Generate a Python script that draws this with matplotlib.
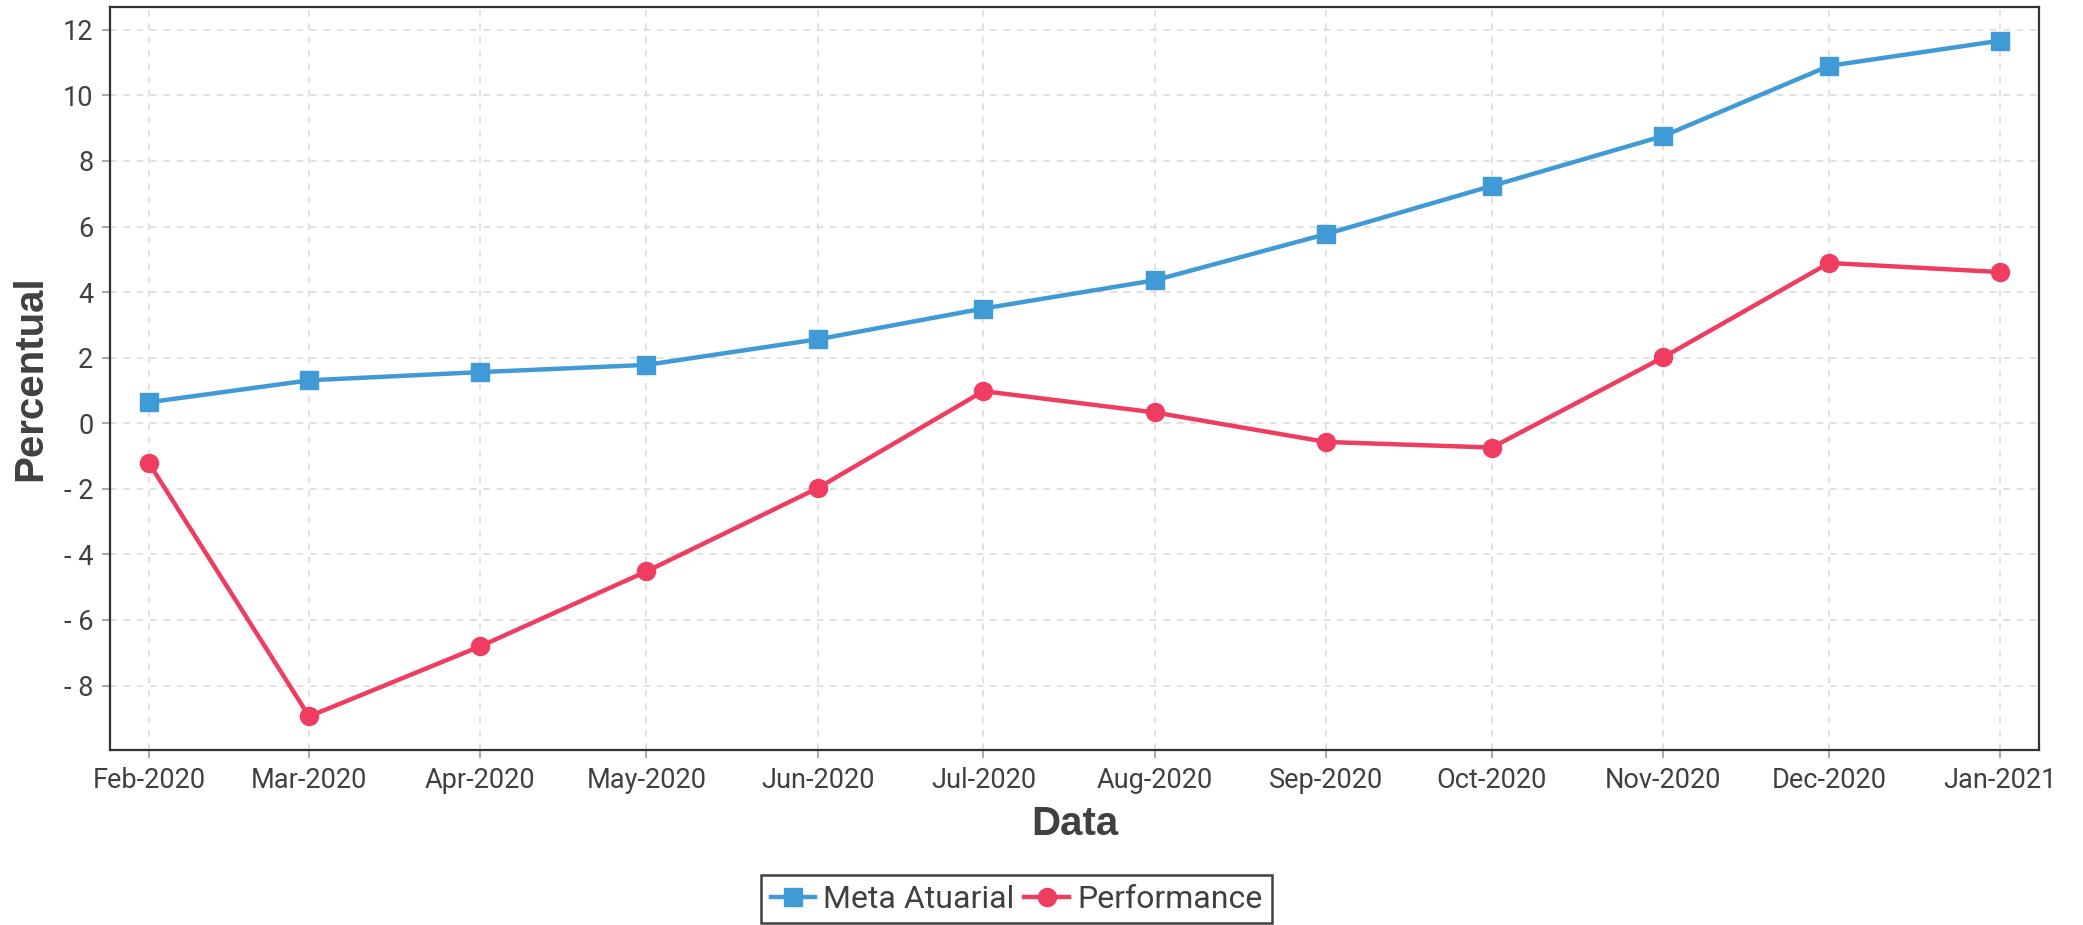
import matplotlib
matplotlib.use("Agg")
import matplotlib.pyplot as plt
import matplotlib.dates as mdates
from matplotlib.ticker import FuncFormatter
import datetime as dt

months = ["2020-02", "2020-03", "2020-04", "2020-05", "2020-06", "2020-07",
          "2020-08", "2020-09", "2020-10", "2020-11", "2020-12", "2021-01"]
meta_atuarial = [0.64, 1.31, 1.56, 1.78, 2.56, 3.50, 4.36, 5.77, 7.24, 8.76, 10.90, 11.67]
performance = [-1.21, -8.94, -6.80, -4.52, -1.98, 0.98, 0.33, -0.57, -0.74, 2.01, 4.89, 4.61]
y_ticks = [-8, -6, -4, -2, 0, 2, 4, 6, 8, 10, 12]

dates = [dt.datetime.strptime(m, "%Y-%m") for m in months]

text_color = "#404040"
plt.rcParams["font.family"] = ["Roboto", "DejaVu Sans"]

fig = plt.figure(figsize=(20.83, 9.25), dpi=100)
ax = fig.add_axes([0.0528, 0.189, 0.9262, 0.8036])

ax.plot(dates, meta_atuarial, color="#3F9AD6", lw=3.2, marker="s", ms=13,
        label="Meta Atuarial", zorder=3)
ax.plot(dates, performance, color="#EE3D60", lw=3.2, marker="o", ms=13,
        label="Performance", zorder=3)

ax.set_xticks(dates)
ax.xaxis.set_major_formatter(mdates.DateFormatter("%b-%Y"))
ax.margins(x=0.021, y=0.05)

ax.set_yticks(y_ticks)
ax.yaxis.set_major_formatter(FuncFormatter(lambda v, p: f"- {abs(v):g}" if v < 0 else f"{v:g}"))

ax.grid(True, linestyle=(0, (4, 4)), color="#dcdcdc", lw=1.2, zorder=0)

for s in ax.spines.values():
    s.set_color("#333333")
    s.set_linewidth(1.6)

ax.tick_params(axis="both", colors="#999999", length=6, width=1.2,
               labelcolor=text_color, labelsize=19.5, pad=6)

ax.set_xlabel("Data", fontsize=29, fontweight="bold", color=text_color,
              family=["Liberation Sans", "DejaVu Sans"], labelpad=8)
ax.set_ylabel("Percentual", fontsize=29, fontweight="bold", color=text_color,
              family=["Liberation Sans", "DejaVu Sans"], labelpad=10)

leg = fig.legend(loc="lower center", bbox_to_anchor=(0.488, 0.0), ncol=2,
                 fontsize=23, frameon=True, fancybox=False, handlelength=1.4,
                 handletextpad=0.25, columnspacing=0.3, borderpad=0.3,
                 borderaxespad=0.05)
leg.get_frame().set_edgecolor("#111111")
leg.get_frame().set_linewidth(1.8)
for t in leg.get_texts():
    t.set_color(text_color)

fig.savefig("out.png", dpi=100)
